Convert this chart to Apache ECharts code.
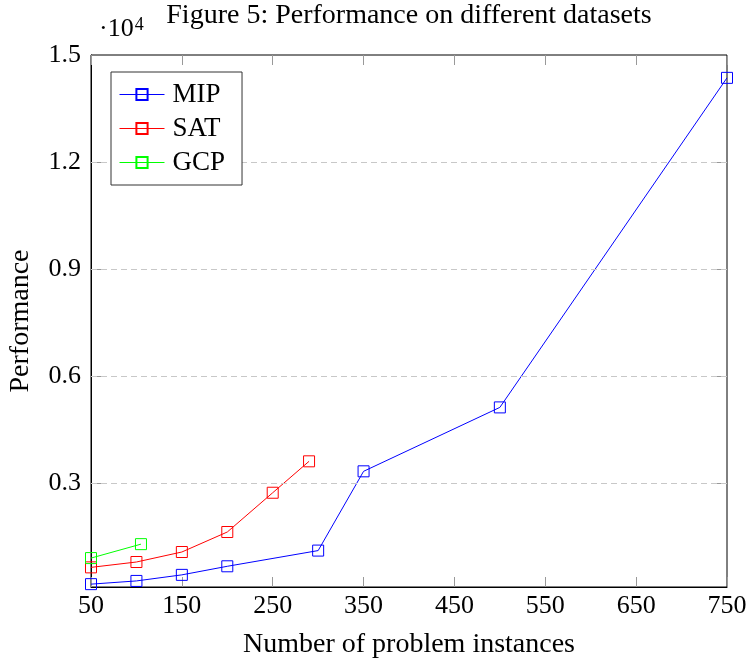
<!DOCTYPE html>
<html lang="en">
<head>
    <meta charset="UTF-8">
    <title>Figure 5</title>
    <script type="text/javascript" src="https://cdn.jsdelivr.net/npm/echarts@6/dist/echarts.min.js"></script>
    <style type="text/css">
        body { margin: 0; background-color: #ffffff; }
        #main { width: 748px; height: 658px; }
    </style>
</head>
<body>
<div id="main"></div>
<script type="text/javascript">
    // data (y in raw units, axis shows x10^4)
    var mipX = [50, 100, 150, 200, 300, 350, 500, 750];
    var mipY = [180, 270, 440, 680, 1120, 3340, 5130, 14360];
    var satX = [50, 100, 150, 200, 250, 290];
    var satY = [650, 800, 1080, 1640, 2740, 3620];
    var gcpX = [50, 105];
    var gcpY = [910, 1300];

    var xTicks = [50, 150, 250, 350, 450, 550, 650, 750];
    var yTicks = [3000, 6000, 9000, 12000, 15000];
    var gridValues = [3000, 6000, 9000, 12000];

    var serif = '"Liberation Serif", "DejaVu Serif", serif';

    function pairs(xs, ys) {
        var out = [];
        for (var i = 0; i < xs.length; i++) {
            out.push([xs[i], ys[i]]);
        }
        return out;
    }

    function lineSeries(name, color, data) {
        return {
            name: name,
            type: 'line',
            data: data,
            symbol: 'rect',
            symbolSize: 11,
            clip: false,
            itemStyle: { color: 'rgba(0,0,0,0)', borderColor: color, borderWidth: 1 },
            lineStyle: { color: color, width: 1 },
            emphasis: { disabled: true }
        };
    }

    var chart = echarts.init(document.getElementById('main'));

    var mip = lineSeries('MIP', '#0000ff', pairs(mipX, mipY));
    // dashed horizontal grid lines
    mip.markLine = {
        silent: true,
        symbol: ['none', 'none'],
        label: { show: false },
        lineStyle: { color: '#c8c8c8', type: [6, 4], width: 1 },
        data: gridValues.map(function (v) { return { yAxis: v }; })
    };

    var tickStyle = { color: '#999', width: 1 };

    chart.setOption({
        animation: false,
        title: {
            text: 'Figure 5: Performance on different datasets',
            left: 409,
            top: 2,
            textAlign: 'center',
            padding: 0,
            textStyle: { fontFamily: serif, fontSize: 28, fontWeight: 'normal', color: '#000' }
        },
        graphic: [{
            type: 'text',
            left: 99,
            top: 16,
            style: {
                text: '\u00b710{sup|4}',
                font: '26px ' + serif,
                fill: '#000',
                rich: {
                    sup: { fontSize: 18, fontFamily: serif, verticalAlign: 'top', padding: [0, 0, 8, 1] }
                }
            }
        }],
        legend: {
            orient: 'vertical',
            left: 111,
            top: 72,
            z: 20,
            padding: [9, 17, 9, 8],
            itemGap: 7,
            itemWidth: 45,
            itemHeight: 14,
            backgroundColor: '#fff',
            borderColor: '#333',
            borderWidth: 1,
            lineStyle: { width: 1 },
            textStyle: { fontFamily: serif, fontSize: 27, lineHeight: 26, color: '#000', padding: [0, 0, 0, 3] },
            data: ['MIP', 'SAT', 'GCP']
        },
        grid: {
            left: 91,
            right: 21,
            top: 55,
            bottom: 71,
            outerBoundsMode: 'none',
            show: true,
            borderColor: '#000',
            borderWidth: 1
        },
        xAxis: [{
            type: 'value',
            min: 50,
            max: 750,
            name: 'Number of problem instances',
            nameLocation: 'middle',
            nameGap: 44,
            nameTextStyle: { fontFamily: serif, fontSize: 28, color: '#000' },
            axisLine: { lineStyle: { color: '#000' } },
            axisTick: { inside: true, length: 10, lineStyle: tickStyle, customValues: xTicks },
            axisLabel: { fontFamily: serif, fontSize: 26, color: '#000', margin: 6, customValues: xTicks },
            splitLine: { show: false }
        }, {
            type: 'value',
            position: 'top',
            min: 50,
            max: 750,
            axisLine: { show: false },
            axisTick: { inside: true, length: 10, lineStyle: tickStyle, customValues: xTicks },
            axisLabel: { show: false },
            splitLine: { show: false }
        }],
        yAxis: [{
            type: 'value',
            min: 100,
            max: 15000,
            name: 'Performance',
            nameLocation: 'middle',
            nameGap: 56,
            nameTextStyle: { fontFamily: serif, fontSize: 28, color: '#000' },
            axisLine: { show: true, lineStyle: { color: '#000' } },
            axisTick: { show: true, inside: true, length: 10, lineStyle: tickStyle, customValues: gridValues },
            axisLabel: {
                fontFamily: serif, fontSize: 26, color: '#000', margin: 10,
                customValues: yTicks,
                formatter: function (v) { return (v / 10000).toFixed(1); }
            },
            splitLine: { show: false }
        }, {
            type: 'value',
            position: 'right',
            min: 100,
            max: 15000,
            axisLine: { show: false },
            axisTick: { show: true, inside: true, length: 10, lineStyle: tickStyle, customValues: gridValues },
            axisLabel: { show: false },
            splitLine: { show: false }
        }],
        series: [
            mip,
            lineSeries('SAT', '#ff0000', pairs(satX, satY)),
            lineSeries('GCP', '#00ff00', pairs(gcpX, gcpY))
        ]
    });
</script>
</body>
</html>
